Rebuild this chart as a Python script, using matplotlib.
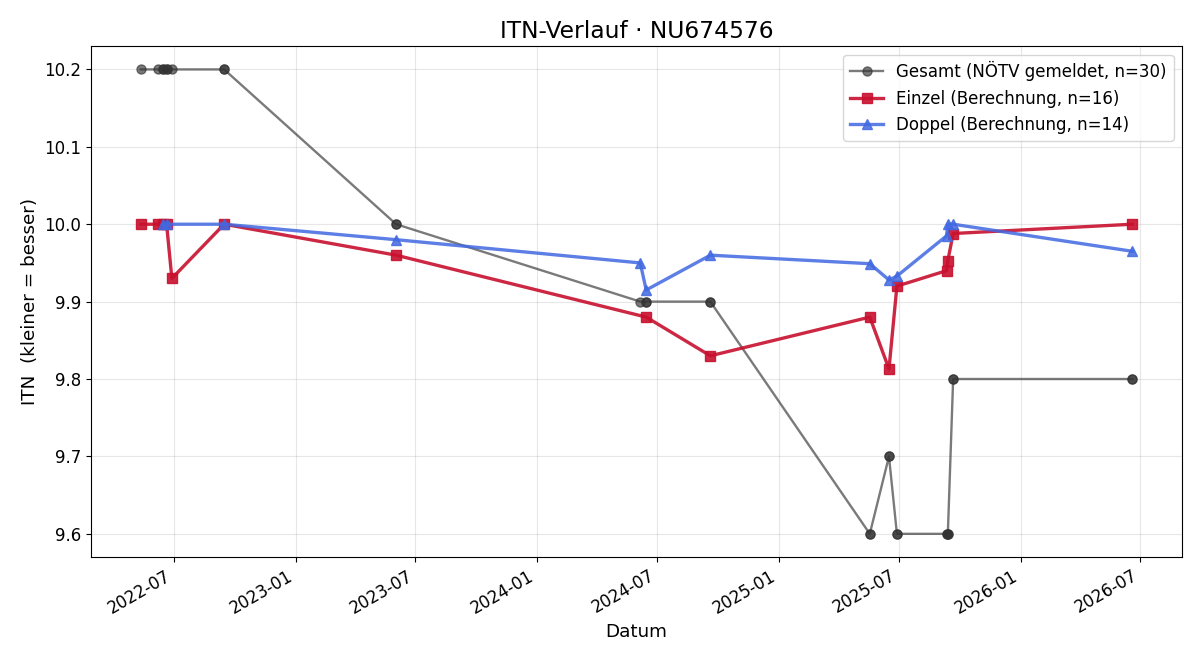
import matplotlib
matplotlib.use("Agg")
import matplotlib.pyplot as plt
import matplotlib.dates as mdates
import pandas as pd

# Einzel (Berechnung)
einzel_dates = ["2022-05-12", "2022-06-07", "2022-06-14", "2022-06-20", "2022-06-28",
                "2022-09-15", "2023-06-02", "2024-06-14", "2024-09-19", "2025-05-18",
                "2025-06-16", "2025-06-28", "2025-09-11", "2025-09-13", "2025-09-21",
                "2026-06-19"]
einzel_itn = [10.0, 10.0, 10.0, 10.0, 9.93, 10.0, 9.96, 9.88, 9.83, 9.88,
              9.813, 9.92, 9.94, 9.953, 9.988, 10.0]

# Doppel (Berechnung)
doppel_dates = ["2022-06-14", "2022-06-20", "2022-09-15", "2023-06-02", "2024-06-05",
                "2024-06-14", "2024-09-19", "2025-05-18", "2025-06-16", "2025-06-28",
                "2025-09-11", "2025-09-13", "2025-09-21", "2026-06-19"]
doppel_itn = [10.0, 10.0, 10.0, 9.98, 9.95, 9.915, 9.96, 9.949, 9.928, 9.933,
              9.985, 10.0, 10.0, 9.965]

# Gesamt (NÖTV gemeldet)
gesamt_dates = ["2022-05-12", "2022-06-07", "2022-06-14", "2022-06-14", "2022-06-20",
                "2022-06-20", "2022-06-28", "2022-09-15", "2022-09-15", "2023-06-02",
                "2023-06-02", "2024-06-05", "2024-06-14", "2024-06-14", "2024-09-19",
                "2024-09-19", "2025-05-18", "2025-05-18", "2025-06-16", "2025-06-16",
                "2025-06-28", "2025-06-28", "2025-09-11", "2025-09-11", "2025-09-13",
                "2025-09-13", "2025-09-21", "2025-09-21", "2026-06-19", "2026-06-19"]
gesamt_itn = [10.2, 10.2, 10.2, 10.2, 10.2, 10.2, 10.2, 10.2, 10.2, 10.0,
              10.0, 9.9, 9.9, 9.9, 9.9, 9.9, 9.6, 9.6, 9.7, 9.7,
              9.6, 9.6, 9.6, 9.6, 9.6, 9.6, 9.8, 9.8, 9.8, 9.8]


fig, ax = plt.subplots(figsize=(12, 6.6), dpi=100)

ax.plot(pd.to_datetime(gesamt_dates), gesamt_itn, marker="o", color="#333333",
        alpha=0.65, linewidth=1.7, markersize=6.5,
        label=f"Gesamt (NÖTV gemeldet, n={len(gesamt_itn)})")
ax.plot(pd.to_datetime(einzel_dates), einzel_itn, marker="s", color="#c8102e",
        alpha=0.9, linewidth=2.4, markersize=7.5,
        label=f"Einzel (Berechnung, n={len(einzel_itn)})")
ax.plot(pd.to_datetime(doppel_dates), doppel_itn, marker="^", color="#4169e1",
        alpha=0.85, linewidth=2.4, markersize=7.5,
        label=f"Doppel (Berechnung, n={len(doppel_itn)})")

ax.set_title("ITN-Verlauf · NU674576", fontsize=16.8)
ax.set_xlabel("Datum", fontsize=13.2)
ax.set_ylabel("ITN  (kleiner = besser)", fontsize=13.2)
ax.xaxis.set_major_locator(mdates.MonthLocator(bymonth=[1, 7]))
ax.xaxis.set_major_formatter(mdates.DateFormatter("%Y-%m"))
ax.tick_params(labelsize=12)
ax.grid(True, alpha=0.3)
ax.legend(loc="upper right", fontsize=12)
fig.autofmt_xdate()

fig.subplots_adjust(left=0.076, right=0.985, top=0.930, bottom=0.156)
fig.savefig("out.png")
